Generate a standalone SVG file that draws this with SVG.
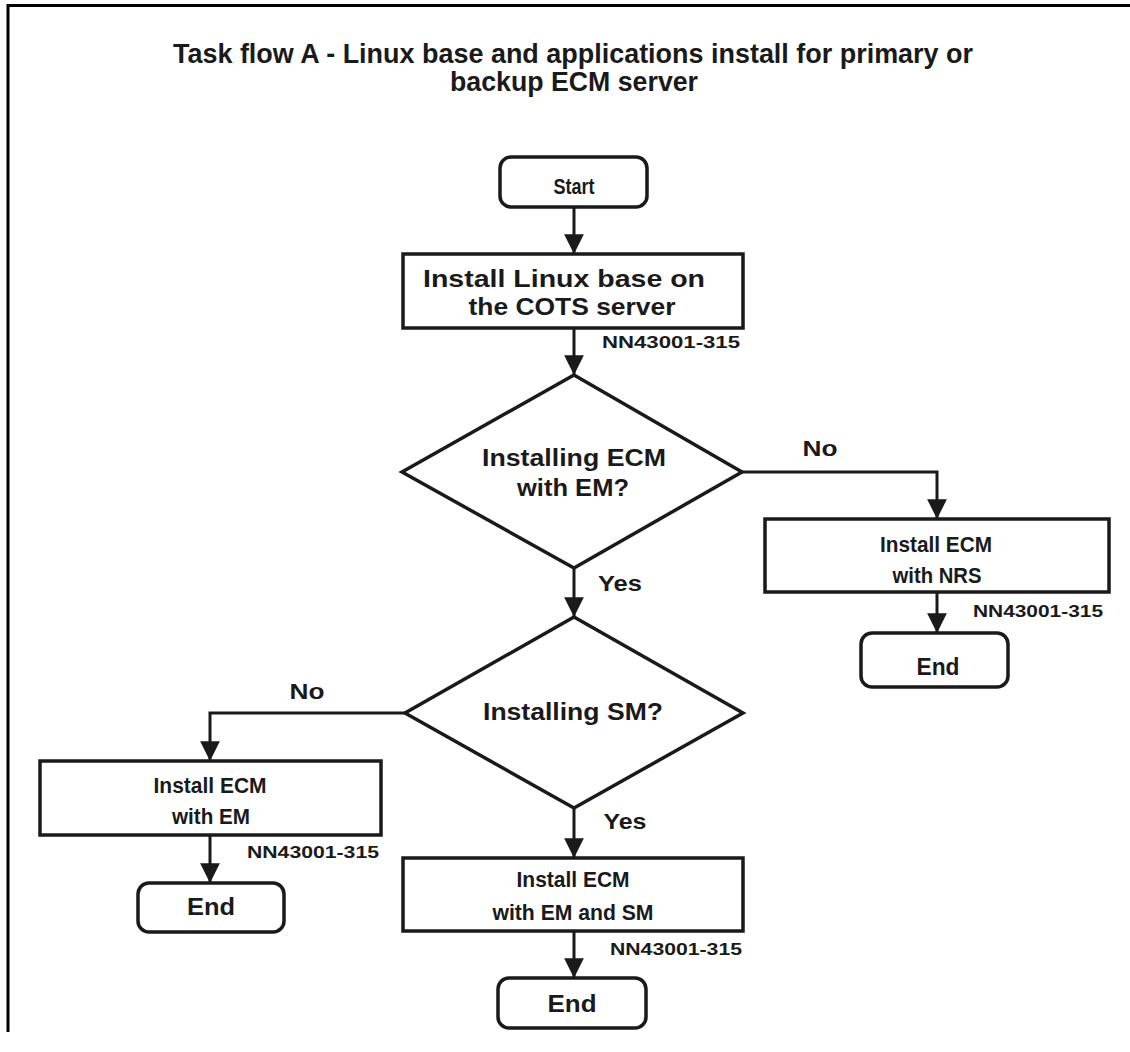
<svg xmlns="http://www.w3.org/2000/svg" width="1130" height="1052" viewBox="0 0 1130 1052">
<style>
  .t { font-family: "Liberation Sans", Arial, Helvetica, sans-serif; font-weight: bold; fill: #1a1a1a; text-anchor: middle; }
  .box { fill: #fff; stroke: #1a1a1a; stroke-width: 3.5; }
  .con { fill: none; stroke: #1a1a1a; stroke-width: 3; }
  .frame { fill: none; stroke: #000; stroke-width: 3; }
</style>
<defs>
  <marker id="arr" markerUnits="userSpaceOnUse" markerWidth="22" markerHeight="22" viewBox="0 0 20 18" refX="18" refY="9" orient="auto">
    <path d="M0,0 L18,9 L0,18 Z" fill="#1a1a1a"/>
  </marker>
</defs>
<rect width="1130" height="1052" fill="#fff"/>
<path class="frame" d="M8,1032 V5.5 H1130"/>

<g id="title">
  <text class="t" x="573" y="63" font-size="27" textLength="800" lengthAdjust="spacingAndGlyphs">Task flow A - Linux base and applications install for primary or</text>
  <text class="t" x="574" y="91" font-size="27" textLength="248" lengthAdjust="spacingAndGlyphs">backup ECM server</text>
</g>

<g id="connectors">
  <line class="con" x1="574" y1="207" x2="574" y2="254" marker-end="url(#arr)"/>
  <line class="con" x1="574" y1="328" x2="574" y2="375" marker-end="url(#arr)"/>
  <line class="con" x1="574" y1="568" x2="574" y2="617" marker-end="url(#arr)"/>
  <path class="con" d="M742,472 H937 V519" marker-end="url(#arr)"/>
  <line class="con" x1="937" y1="592" x2="937" y2="633" marker-end="url(#arr)"/>
  <path class="con" d="M405,713 H210 V761" marker-end="url(#arr)"/>
  <line class="con" x1="210" y1="835" x2="210" y2="883" marker-end="url(#arr)"/>
  <line class="con" x1="574" y1="808" x2="574" y2="858" marker-end="url(#arr)"/>
  <line class="con" x1="574" y1="931" x2="574" y2="978" marker-end="url(#arr)"/>
  <text class="t" x="620" y="591" font-size="22" textLength="44" lengthAdjust="spacingAndGlyphs">Yes</text>
  <text class="t" x="820" y="456" font-size="22" textLength="35" lengthAdjust="spacingAndGlyphs">No</text>
  <text class="t" x="307" y="699" font-size="22" textLength="35" lengthAdjust="spacingAndGlyphs">No</text>
  <text class="t" x="625" y="829" font-size="22" textLength="43" lengthAdjust="spacingAndGlyphs">Yes</text>
</g>

<g id="start">
  <rect class="box" x="500" y="157" width="147" height="50" rx="11"/>
  <text class="t" x="574" y="194" font-size="22" textLength="41" lengthAdjust="spacingAndGlyphs">Start</text>
</g>

<g id="install-linux">
  <rect class="box" x="403" y="254" width="340" height="74"/>
  <text class="t" x="564" y="287" font-size="24" textLength="282" lengthAdjust="spacingAndGlyphs">Install Linux base on</text>
  <text class="t" x="572" y="315" font-size="24" textLength="207" lengthAdjust="spacingAndGlyphs">the COTS server</text>
  <text class="t" x="671" y="348" font-size="17" textLength="138" lengthAdjust="spacingAndGlyphs">NN43001-315</text>
</g>

<g id="decision-em">
  <polygon class="box" points="574,375 742,472 574,568 402,472"/>
  <text class="t" x="574" y="466" font-size="23" textLength="184" lengthAdjust="spacingAndGlyphs">Installing ECM</text>
  <text class="t" x="573" y="496" font-size="23" textLength="112" lengthAdjust="spacingAndGlyphs">with EM?</text>
</g>

<g id="install-nrs">
  <rect class="box" x="765" y="519" width="344" height="73"/>
  <text class="t" x="936" y="552" font-size="22" textLength="112" lengthAdjust="spacingAndGlyphs">Install ECM</text>
  <text class="t" x="937" y="583" font-size="22" textLength="89" lengthAdjust="spacingAndGlyphs">with NRS</text>
  <text class="t" x="1038" y="617" font-size="17" textLength="130" lengthAdjust="spacingAndGlyphs">NN43001-315</text>
</g>

<g id="end-nrs">
  <rect class="box" x="861" y="633" width="147" height="54" rx="11"/>
  <text class="t" x="938" y="675" font-size="24" textLength="43" lengthAdjust="spacingAndGlyphs">End</text>
</g>

<g id="decision-sm">
  <polygon class="box" points="574,617 743,713 574,808 405,713"/>
  <text class="t" x="573" y="720" font-size="23" textLength="180" lengthAdjust="spacingAndGlyphs">Installing SM?</text>
</g>

<g id="install-em">
  <rect class="box" x="40" y="761" width="341" height="74"/>
  <text class="t" x="210" y="793" font-size="22" textLength="113" lengthAdjust="spacingAndGlyphs">Install ECM</text>
  <text class="t" x="211" y="824" font-size="22" textLength="78" lengthAdjust="spacingAndGlyphs">with EM</text>
  <text class="t" x="313" y="858" font-size="17" textLength="132" lengthAdjust="spacingAndGlyphs">NN43001-315</text>
</g>

<g id="end-em">
  <rect class="box" x="138" y="883" width="146" height="49" rx="11"/>
  <text class="t" x="211" y="915" font-size="24" textLength="48" lengthAdjust="spacingAndGlyphs">End</text>
</g>

<g id="install-em-sm">
  <rect class="box" x="403" y="858" width="340" height="73"/>
  <text class="t" x="573" y="887" font-size="22" textLength="113" lengthAdjust="spacingAndGlyphs">Install ECM</text>
  <text class="t" x="573" y="920" font-size="22" textLength="161" lengthAdjust="spacingAndGlyphs">with EM and SM</text>
  <text class="t" x="676" y="955" font-size="17" textLength="132" lengthAdjust="spacingAndGlyphs">NN43001-315</text>
</g>

<g id="end-em-sm">
  <rect class="box" x="498" y="978" width="148" height="50" rx="11"/>
  <text class="t" x="572" y="1012" font-size="24" textLength="49" lengthAdjust="spacingAndGlyphs">End</text>
</g>
</svg>
